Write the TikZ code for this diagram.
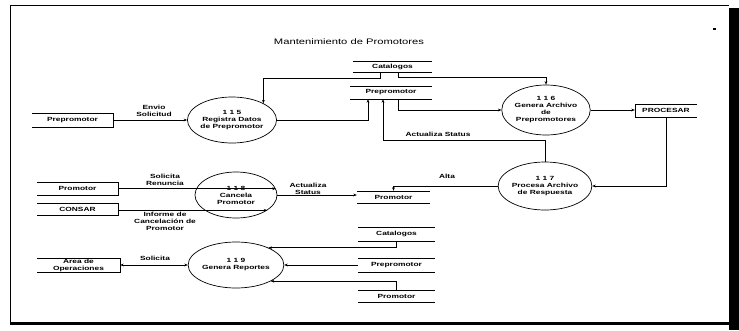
\documentclass[tikz,border=0pt]{standalone}
\usepackage{fontspec}
\newfontfamily\dfont[FakeStretch=1.4]{Liberation Sans}
\usetikzlibrary{shapes.geometric,arrows.meta,calc}
\begin{document}
\begin{tikzpicture}[x=1pt,y=-1pt,
  lbl/.style={font=\dfont\bfseries\fontsize{6}{7}\selectfont, align=center, inner sep=0pt},
  procn/.style={ellipse, draw, line width=0.7pt, lbl},
  box/.style={lbl},
  edge/.style={line width=0.6pt},
  flow/.style={line width=0.6pt, -{Stealth[length=3.5pt,width=2.8pt]}},
  dflow/.style={line width=0.6pt, {Stealth[length=3.5pt,width=2.8pt]}-{Stealth[length=3.5pt,width=2.8pt]}}]
\useasboundingbox (0,0) rectangle (739,330);
% frame
\draw[line width=1pt] (10,323) -- (10,5) -- (729,5);
\draw[line width=3pt] (10,323) -- (729,323);
\fill (729,8) rectangle (739,330);
\fill (713,28) rectangle (716,30);
% title
\node[font=\dfont\fontsize{8}{9}\selectfont] (title) at (349,42) {Mantenimiento de Promotores};
% processes
\node[procn, minimum width=82pt, minimum height=46pt] (e115) at (232,120) {1 1 5\\Registra Datos\\de Prepromotor};
\node[procn, minimum width=84pt, minimum height=50pt] (e116) at (546,110) {1 1 6\\Genera Archivo\\de\\Prepromotores};
\node[procn, minimum width=86pt, minimum height=48pt] (e117) at (545,186) {1 1 7\\Procesa Archivo\\de Respuesta};
\node[procn, minimum width=82pt, minimum height=46pt] (e118) at (236,195) {1 1 8\\Cancela\\Promotor};
\node[procn, minimum width=84pt, minimum height=46pt] (e119) at (236,265) {1 1 9\\Genera Reportes};
% external entities (open on one side)
\node[box, minimum width=81pt, minimum height=14pt] (pp1) at (72.5,120) {Prepromotor};
\draw[edge] (pp1.north west) -- (pp1.north east) -- (pp1.south east) -- (pp1.south west);
\node[box, minimum width=81pt, minimum height=13pt] (prom1) at (77.5,188.5) {Promotor};
\draw[edge] (prom1.north west) -- (prom1.north east) -- (prom1.south east) -- (prom1.south west);
\node[box, minimum width=81pt, minimum height=12pt] (cons) at (77.5,209) {CONSAR};
\draw[edge] (cons.north west) -- (cons.north east) -- (cons.south east) -- (cons.south west);
\node[box, minimum width=83pt, minimum height=14pt] (area) at (78.5,265) {Area de\\Operaciones};
\draw[edge] (area.north west) -- (area.north east) -- (area.south east) -- (area.south west);
\node[box, minimum width=62pt, minimum height=13pt] (proc) at (666,110.5) {PROCESAR};
\draw[edge] (proc.north east) -- (proc.north west) -- (proc.south west) -- (proc.south east);
% data stores
\node[box, minimum width=79pt, minimum height=11pt] (cat1) at (392.5,66.5) {Catalogos};
\draw[edge] (cat1.north west) -- (cat1.north east) (cat1.south west) -- (cat1.south east);
\node[box, minimum width=82pt, minimum height=13pt] (pst) at (391,92.5) {Prepromotor};
\draw[edge] (pst.north west) -- (pst.north east) (pst.south west) -- (pst.south east);
\node[box, minimum width=73pt, minimum height=12pt] (pm2) at (393.5,197) {Promotor};
\draw[edge] (pm2.north west) -- (pm2.north east) (pm2.south west) -- (pm2.south east);
\node[box, minimum width=77pt, minimum height=14pt] (cat2) at (396.5,234) {Catalogos};
\draw[edge] (cat2.north west) -- (cat2.north east) (cat2.south west) -- (cat2.south east);
\node[box, minimum width=77pt, minimum height=14pt] (pp2) at (396.5,265) {Prepromotor};
\draw[edge] (pp2.north west) -- (pp2.north east) (pp2.south west) -- (pp2.south east);
\node[box, minimum width=77pt, minimum height=12pt] (pm3) at (396.5,296) {Promotor};
\draw[edge] (pm3.north west) -- (pm3.north east) (pm3.south west) -- (pm3.south east);
% connectors
\draw[flow] (pp1.east) -- (e115.west);
\draw[flow] ($(cat1.south)+(-12,0)$) -- ++(0,6) -| (e115.28);
\draw[flow] (e115.east) -| ($(pst.south)+(-23,0)$);
\draw[flow] ($(pst.south)+(7,0)$) |- (e116.west);
\draw[flow] ($(cat1.south)+(6,0)$) -- ++(0,5) -| (e116.north);
\draw[flow] (e116.east) -- (e116.east -| proc.west);
\draw[flow] (proc.south) |- (e117.east);
\coordinate (a1) at (383,140);
\draw[flow] (e117.north) |- (a1) -- (a1 |- pst.south);
\draw[flow] (e117.west) -| (pm2.north);
\draw[flow] (e118.9 -| prom1.east) -- (e118.9);
\draw[flow] (e118.334 -| cons.east) -- (e118.334);
\draw[flow] (e118.east) -- (e118.east -| pm2.west);
\draw[dflow] (area.east) -- (e119.west);
\draw[flow] (cat2.south) |- (e119.28);
\draw[flow] (pp2.west) -- (e119.east);
\draw[flow] (pm3.north) |- (e119.335);
% labels
\node[lbl] (l1) at (154,110.5) {Envio\\Solicitud};
\node[lbl] (l2) at (438,134) {Actualiza Status};
\node[lbl] (l3) at (447,176) {Alta};
\node[lbl] (l4) at (308,188.5) {Actualiza\\Status};
\node[lbl] (l5) at (165,179.5) {Solicita\\Renuncia};
\node[lbl] (l6) at (165,221) {Informe de\\Cancelación de\\Promotor};
\node[lbl] (l7) at (155,258) {Solicita};
\end{tikzpicture}
\end{document}
